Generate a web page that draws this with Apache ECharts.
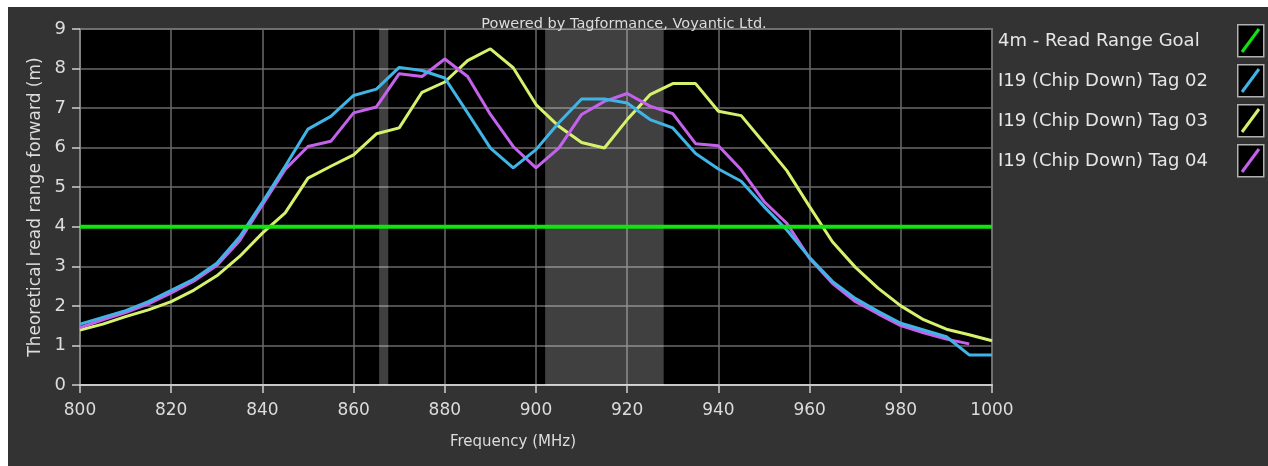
<!DOCTYPE html>
<html>
<head>
<meta charset="utf-8">
<script src="https://cdn.jsdelivr.net/npm/echarts@6/dist/echarts.min.js"></script>
<style>
  html, body { margin: 0; padding: 0; background: #ffffff; width: 1268px; height: 466px; overflow: hidden; }
  #chart { position: absolute; left: 8px; top: 7px; width: 1260px; height: 459px; background: #333333; }
</style>
</head>
<body>
<div id="chart"></div>
<script>
// ---- data ----
const freq = [800,805,810,815,820,825,830,835,840,845,850,855,860,865,870,875,880,885,890,895,900,
              905,910,915,920,925,930,935,940,945,950,955,960,965,970,975,980,985,990,995,1000];
const tag02 = [1.54,1.71,1.88,2.11,2.39,2.68,3.08,3.74,4.62,5.53,6.47,6.79,7.32,7.48,8.03,7.95,7.76,6.88,5.99,5.49,5.95,
               6.63,7.23,7.23,7.13,6.71,6.50,5.85,5.46,5.15,4.51,3.92,3.22,2.62,2.19,1.86,1.56,1.39,1.22,0.76,0.76];
const tag03 = [1.39,1.54,1.73,1.90,2.11,2.40,2.76,3.25,3.84,4.35,5.23,5.53,5.82,6.35,6.50,7.40,7.66,8.20,8.50,8.02,7.09,
               6.54,6.13,5.99,6.71,7.34,7.62,7.62,6.92,6.81,6.12,5.42,4.51,3.62,2.98,2.45,2.00,1.65,1.41,1.27,1.12];
const tag04 = [1.45,1.65,1.83,2.05,2.33,2.63,3.02,3.65,4.55,5.45,6.03,6.16,6.88,7.03,7.87,7.80,8.24,7.80,6.84,6.03,5.49,
               5.99,6.84,7.17,7.37,7.05,6.86,6.10,6.05,5.44,4.64,4.09,3.20,2.57,2.11,1.80,1.50,1.32,1.16,1.04,null];
const goalValue = 4;
const bands = [[865.6, 867.6], [902, 928]];
const seriesNames = ['4m - Read Range Goal','I19 (Chip Down) Tag 02','I19 (Chip Down) Tag 03','I19 (Chip Down) Tag 04'];
const seriesColors = ['#10e410','#41b4e6','#d6f26c','#c462ec'];
const titleText = 'Powered by Tagformance, Voyantic Ltd.';
const xName = 'Frequency (MHz)';
const yName = 'Theoretical read range forward (m)';

const FONT = 'DejaVu Sans';
const pairs = arr => freq.map((f, i) => [f, arr[i]]);

// legend icon boxes (decoration)
const iconGraphics = [];
seriesNames.forEach((n, i) => {
  const x = 1229, y = 17 + 40 * i;
  iconGraphics.push({ type: 'rect', left: x, top: y, shape: { width: 26, height: 32 },
    style: { fill: '#000', stroke: '#b0b0b0', lineWidth: 1.5 } });
  iconGraphics.push({ type: 'line', shape: { x1: x + 5, y1: y + 28, x2: x + 22, y2: y + 5 },
    style: { stroke: seriesColors[i], lineWidth: 3 } });
});

const chart = echarts.init(document.getElementById('chart'));
chart.setOption({
  backgroundColor: '#333333',
  animation: false,
  textStyle: { fontFamily: FONT },
  title: { text: titleText, left: 611, top: 5, textAlign: 'center',
    textStyle: { color: '#dcdcdc', fontSize: 14.5, fontWeight: 'normal', fontFamily: FONT } },
  legend: {
    orient: 'vertical', left: 980, top: 19, icon: 'none', itemWidth: 0, itemHeight: 20, itemGap: 21,
    data: seriesNames,
    textStyle: { color: '#e6e6e6', fontSize: 18, fontFamily: FONT }
  },
  graphic: iconGraphics,
  grid: { left: 72, right: 276, top: 22, bottom: 81, show: true, backgroundColor: '#000000',
    borderColor: '#a0a0a0', borderWidth: 1.5 },
  xAxis: {
    type: 'value', min: 800, max: 1000, interval: 20,
    name: xName, nameLocation: 'middle', nameGap: 50,
    nameTextStyle: { color: '#dcdcdc', fontSize: 15, fontFamily: FONT, padding: [0, 46, 0, 0] },
    axisLine: { show: true, lineStyle: { color: '#c8c8c8', width: 2 } },
    axisTick: { show: true, length: 8, lineStyle: { color: '#d0d0d0', width: 1.5 } },
    axisLabel: { color: '#dcdcdc', fontSize: 17, margin: 17, fontFamily: FONT, formatter: v => String(v) },
    splitLine: { show: true, lineStyle: { color: '#6a6a6a', width: 1.5 } }
  },
  yAxis: {
    type: 'value', min: 0, max: 9, interval: 1,
    name: yName, nameLocation: 'middle', nameGap: 27, nameRotate: 90,
    nameTextStyle: { color: '#dcdcdc', fontSize: 17, fontFamily: FONT },
    axisLine: { show: true, lineStyle: { color: '#8a8a8a', width: 1.5 } },
    axisTick: { show: true, length: 8, lineStyle: { color: '#d0d0d0', width: 1.5 } },
    axisLabel: { color: '#dcdcdc', fontSize: 18, margin: 14, fontFamily: FONT },
    splitLine: { show: true, lineStyle: { color: '#6a6a6a', width: 1.5 } }
  },
  series: [
    { name: 'bands', type: 'line', data: [], silent: true,
      markArea: { silent: true, itemStyle: { color: 'rgba(255,255,255,0.25)' },
        data: bands.map(b => [{ xAxis: b[0] }, { xAxis: b[1] }]) } },
    { name: seriesNames[2], type: 'line', data: pairs(tag03), showSymbol: false,
      lineStyle: { color: seriesColors[2], width: 3 }, itemStyle: { color: seriesColors[2] } },
    { name: seriesNames[3], type: 'line', data: pairs(tag04), showSymbol: false,
      lineStyle: { color: seriesColors[3], width: 3 }, itemStyle: { color: seriesColors[3] } },
    { name: seriesNames[1], type: 'line', data: pairs(tag02), showSymbol: false,
      lineStyle: { color: seriesColors[1], width: 3 }, itemStyle: { color: seriesColors[1] } },
    { name: seriesNames[0], type: 'line', data: [[freq[0], goalValue], [freq[freq.length - 1], goalValue]],
      showSymbol: false, lineStyle: { color: seriesColors[0], width: 4 }, itemStyle: { color: seriesColors[0] } }
  ]
});
</script>
</body>
</html>
